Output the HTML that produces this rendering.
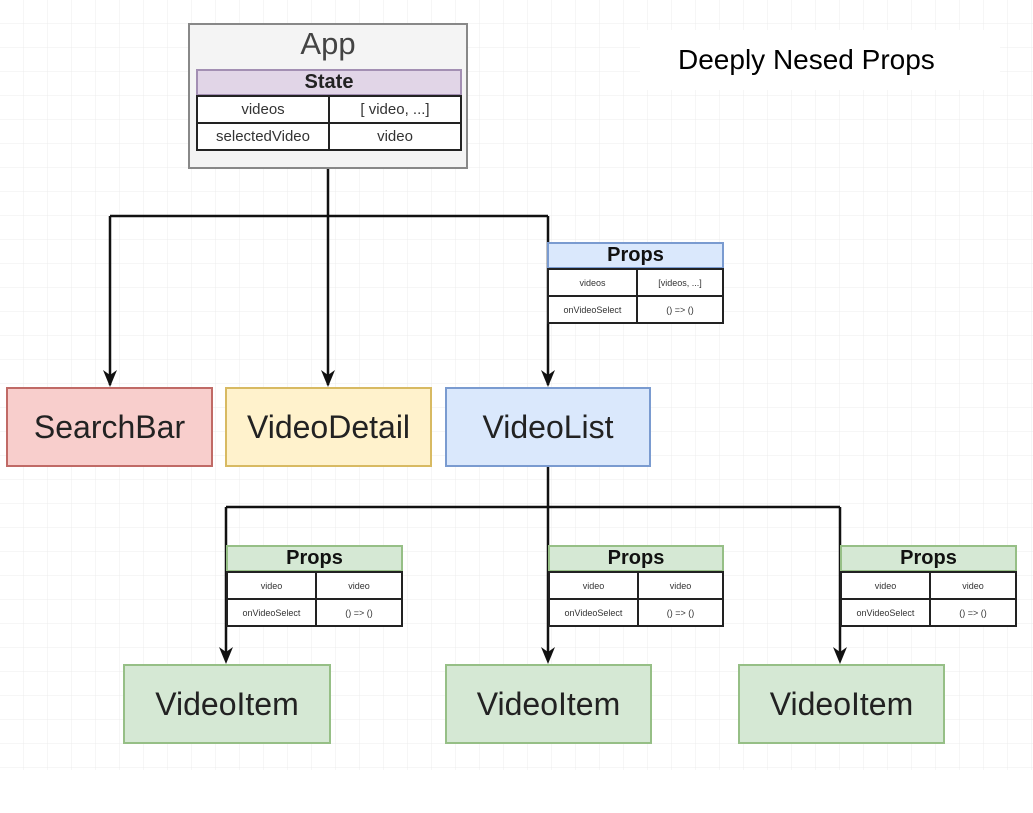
<!DOCTYPE html>
<html><head><style>
body{margin:0;width:1033px;height:813px;position:relative;background:#fff;font-family:"Liberation Sans",sans-serif;overflow:hidden}
.a{position:absolute;box-sizing:border-box}
.c{display:flex;align-items:center;justify-content:center}
table{position:absolute;border-collapse:collapse;font-family:"Liberation Sans",sans-serif}
td{border:2px solid #222;background:#fff;text-align:center;padding:0;color:#333}
</style></head><body>
<svg class="a" style="left:0;top:0" width="1033" height="813">
<defs><pattern id="g" width="24" height="24" patternUnits="userSpaceOnUse"><path d="M24 0V24H0" fill="none" stroke="#ececec" stroke-width="1"/></pattern>
<marker id="ar" markerWidth="10" markerHeight="10" refX="5" refY="9" orient="auto" markerUnits="userSpaceOnUse"><path d="M0,0 L5,10 L10,0 L5,3 z" fill="#111" transform="translate(0,0)"/></marker></defs>
<rect width="1033" height="770" fill="url(#g)"/>
<rect x="640" y="30" width="360" height="60" fill="#fff"/>
<g stroke="#111" stroke-width="2.5" fill="none">
<path d="M328 168V385"/><path d="M110 216H548"/><path d="M110 216V385"/><path d="M548 216V385"/>
<path d="M548 466V507"/><path d="M226 507H840"/><path d="M226 507V660"/><path d="M548 507V660"/><path d="M840 507V660"/>
</g>
<g fill="#111">
<path d="M103 370L110 387L117 370L110 375z"/><path d="M321 370L328 387L335 370L328 375z"/><path d="M541 370L548 387L555 370L548 375z"/>
<path d="M219 647L226 664L233 647L226 652z"/><path d="M541 647L548 664L555 647L548 652z"/><path d="M833 647L840 664L847 647L840 652z"/>
</g>
</svg>
<div class="a" style="left:678px;top:44px;font-size:28px;color:#000">Deeply Nesed Props</div>

<div class="a" style="left:188px;top:23px;width:280px;height:146px;background:#f4f4f4;border:2px solid #888"></div>
<div class="a c" style="left:188px;top:24px;width:280px;height:40px;font-size:31px;color:#444">App</div>
<div class="a c" style="left:196px;top:69px;width:266px;height:27px;background:#e1d5e7;border:2px solid #a38fb3;font-weight:bold;font-size:20px;color:#222">State</div>
<table style="left:196px;top:95px;width:266px;font-size:15px"><tr style="height:27px"><td style="width:130px">videos</td><td>[ video, ...]</td></tr><tr style="height:27px"><td>selectedVideo</td><td>video</td></tr></table>

<div class="a c" style="left:547px;top:242px;width:177px;height:27px;background:#dae8fc;border:2px solid #7a9bd0;font-weight:bold;font-size:20px;color:#111">Props</div>
<table style="left:547px;top:268px;width:177px;font-size:9px"><tr style="height:27px"><td style="width:87px">videos</td><td>[videos, ...]</td></tr><tr style="height:27px"><td>onVideoSelect</td><td>() =&gt; ()</td></tr></table>

<div class="a c" style="left:6px;top:387px;width:207px;height:80px;background:#f8cecc;border:2px solid #c06a66;font-size:32px;color:#222">SearchBar</div>
<div class="a c" style="left:225px;top:387px;width:207px;height:80px;background:#fff2cc;border:2px solid #d8ba62;font-size:32px;color:#222">VideoDetail</div>
<div class="a c" style="left:445px;top:387px;width:206px;height:80px;background:#dae8fc;border:2px solid #7a9bd0;font-size:32px;color:#222">VideoList</div>

<div class="a c" style="left:226px;top:545px;width:177px;height:27px;background:#d5e8d4;border:2px solid #96bf86;font-weight:bold;font-size:20px;color:#111">Props</div>
<table style="left:226px;top:571px;width:177px;font-size:9px"><tr style="height:27px"><td style="width:87px">video</td><td>video</td></tr><tr style="height:27px"><td>onVideoSelect</td><td>() =&gt; ()</td></tr></table>
<div class="a c" style="left:548px;top:545px;width:176px;height:27px;background:#d5e8d4;border:2px solid #96bf86;font-weight:bold;font-size:20px;color:#111">Props</div>
<table style="left:548px;top:571px;width:176px;font-size:9px"><tr style="height:27px"><td style="width:87px">video</td><td>video</td></tr><tr style="height:27px"><td>onVideoSelect</td><td>() =&gt; ()</td></tr></table>
<div class="a c" style="left:840px;top:545px;width:177px;height:27px;background:#d5e8d4;border:2px solid #96bf86;font-weight:bold;font-size:20px;color:#111">Props</div>
<table style="left:840px;top:571px;width:177px;font-size:9px"><tr style="height:27px"><td style="width:87px">video</td><td>video</td></tr><tr style="height:27px"><td>onVideoSelect</td><td>() =&gt; ()</td></tr></table>

<div class="a c" style="left:123px;top:664px;width:208px;height:80px;background:#d5e8d4;border:2px solid #96bf86;font-size:32px;color:#222">VideoItem</div>
<div class="a c" style="left:445px;top:664px;width:207px;height:80px;background:#d5e8d4;border:2px solid #96bf86;font-size:32px;color:#222">VideoItem</div>
<div class="a c" style="left:738px;top:664px;width:207px;height:80px;background:#d5e8d4;border:2px solid #96bf86;font-size:32px;color:#222">VideoItem</div>
</body></html>
